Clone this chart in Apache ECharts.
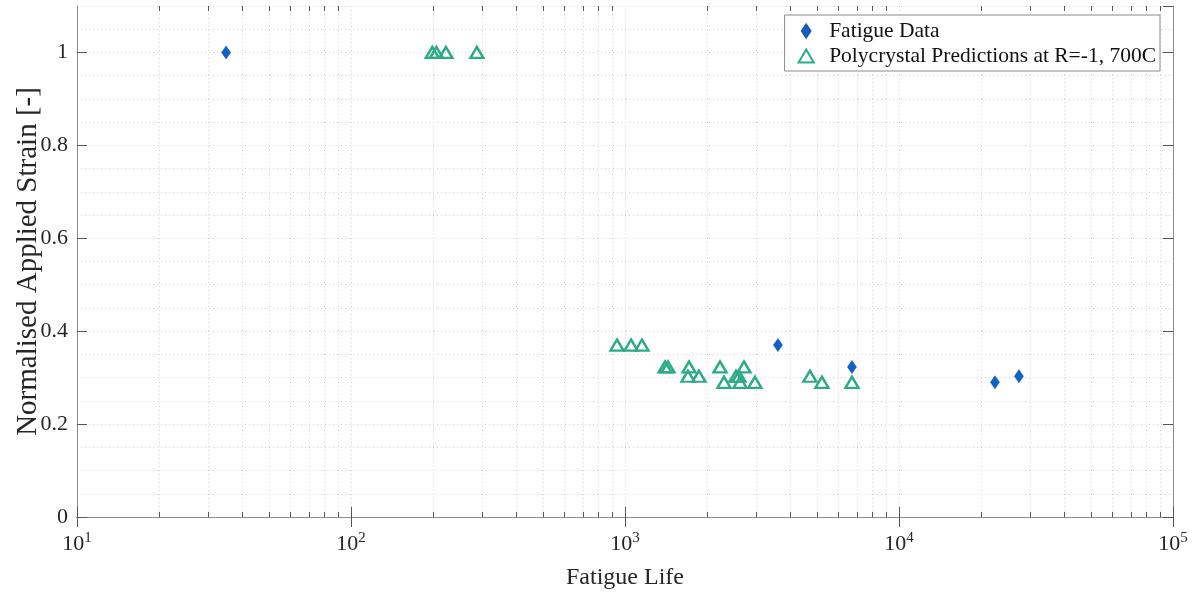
<!DOCTYPE html>
<html>
<head>
<meta charset="utf-8">
<script src="https://cdn.jsdelivr.net/npm/echarts@6/dist/echarts.min.js"></script>
<style>
  html, body { margin: 0; padding: 0; background: #fff; }
  #chart { width: 1197px; height: 592px; }
</style>
</head>
<body>
<div id="chart"></div>
<script>
// Measured fatigue lives and normalised strain amplitudes
const fatigueLife   = [35, 3616, 6734, 22400, 27400];
const fatigueStrain = [1.0, 0.37, 0.323, 0.29, 0.303];

// Polycrystal model predictions at R=-1, 700C
const predLife = [198, 205, 222, 288,
                  935, 1052, 1153,
                  1400, 1435, 1713, 2222, 2718,
                  1698, 1862, 2541, 2607, 4732,
                  2298, 2630, 2979, 5233, 6734];
const predStrain = [1.0, 1.0, 1.0, 1.0,
                    0.37, 0.37, 0.37,
                    0.323, 0.323, 0.323, 0.323, 0.323,
                    0.303, 0.303, 0.303, 0.303, 0.303,
                    0.29, 0.29, 0.29, 0.29, 0.29];

// Axis ranges and tick values
const xMin = 10, xMax = 100000;
const yMin = 0, yMax = 1.1, yStep = 0.2, yMinorStep = 0.05;
const minorLogTicks = [];
for (let d = 10; d < xMax; d *= 10) {
  for (let m = 2; m <= 9; m++) minorLogTicks.push(m * d);
}

const serif = 'Liberation Serif';
const textColor = '#262626';
const boxColor = '#8a8a8a';
const tickColor = '#555';
const gridColor = '#d2d2d2';
const blue = '#0c62c6';
const teal = '#2dab87';

const chart = echarts.init(document.getElementById('chart'));

function expLabel(v) {
  const e = Math.round(Math.log10(v));
  return '{b|10}{s|' + e + '}';
}

chart.setOption({
  animation: false,
  backgroundColor: '#fff',
  grid: { left: 77, right: 24, top: 6, bottom: 75, containLabel: false, outerBoundsMode: 'none' },
  legend: {
    data: [
      { name: 'Fatigue Data', icon: 'path://M4,0L8,6L4,12L0,6Z' },
      { name: 'Polycrystal Predictions at R=-1, 700C', icon: 'path://M7,0L14,12L0,12Z' }
    ],
    orient: 'vertical',
    right: 37,
    top: 15,
    itemWidth: 36,
    itemHeight: 13,
    itemGap: 3,
    padding: [5, 4, 4, 13],
    backgroundColor: '#fff',
    borderColor: '#8a8a8a',
    borderWidth: 1,
    textStyle: { fontFamily: serif, fontSize: 21.5, color: '#111' }
  },
  xAxis: [
    {
      type: 'log', logBase: 10, min: xMin, max: xMax,
      name: 'Fatigue Life', nameLocation: 'middle', nameGap: 49, nameMoveOverlap: false,
      nameTextStyle: { fontFamily: serif, fontSize: 24, color: textColor },
      axisLine: { show: true, lineStyle: { color: boxColor, width: 1 } },
      axisTick: { show: true, inside: true, length: 10, lineStyle: { color: tickColor } },
      axisLabel: {
        margin: 14,
        formatter: expLabel,
        rich: {
          b: { fontFamily: serif, fontSize: 22, color: textColor, lineHeight: 26 },
          s: { fontFamily: serif, fontSize: 15, color: textColor, verticalAlign: 'top', lineHeight: 26, padding: [0, 0, 9, 0] }
        }
      },
      splitLine: { show: true, lineStyle: { color: gridColor, type: [1, 3] } }
    },
    {
      type: 'log', logBase: 10, min: xMin, max: xMax, position: 'top',
      axisLine: { show: true, lineStyle: { color: boxColor, width: 1 } },
      axisTick: { show: true, inside: true, length: 10, lineStyle: { color: tickColor } },
      axisLabel: { show: false },
      splitLine: { show: false }
    }
  ],
  yAxis: [
    {
      type: 'value', min: yMin, max: yMax, interval: yStep,
      name: 'Normalised Applied Strain [-]', nameLocation: 'middle', nameGap: 34, nameMoveOverlap: false,
      nameTextStyle: { fontFamily: serif, fontSize: 29, color: textColor },
      axisLine: { show: true, lineStyle: { color: boxColor, width: 1 } },
      axisTick: { show: true, inside: true, length: 10, lineStyle: { color: tickColor } },
      axisLabel: {
        margin: 9, showMaxLabel: false,
        fontFamily: serif, fontSize: 22, color: textColor,
        formatter: v => String(+v.toFixed(2))
      },
      splitLine: { show: false }
    },
    {
      type: 'value', min: yMin, max: yMax, interval: yStep, position: 'right',
      axisLine: { show: true, lineStyle: { color: boxColor, width: 1 } },
      axisTick: { show: true, inside: true, length: 10, lineStyle: { color: tickColor } },
      axisLabel: { show: false },
      splitLine: { show: false }
    },
    {
      // fine horizontal grid every 0.05
      type: 'value', min: yMin, max: yMax, interval: yMinorStep, position: 'left',
      axisLine: { show: false }, axisTick: { show: false }, axisLabel: { show: false },
      splitLine: { show: true, lineStyle: { color: gridColor, type: [1, 3] } }
    }
  ],
  series: [
    {
      // minor log ticks (2..9 per decade) and their dotted grid lines
      type: 'custom',
      silent: true,
      xAxisIndex: 0, yAxisIndex: 0,
      z: 0,
      clip: false,
      data: minorLogTicks.map(v => [v, 0.5]),
      renderItem: function (params, api) {
        const x = Math.round(api.coord([api.value(0), api.value(1)])[0]) + 0.5;
        const cs = params.coordSys;
        const top = cs.y, bottom = cs.y + cs.height;
        return {
          type: 'group',
          children: [
            { type: 'line', shape: { x1: x, y1: top, x2: x, y2: bottom },
              style: { stroke: gridColor, lineWidth: 1, lineDash: [1, 3] } },
            { type: 'line', shape: { x1: x, y1: bottom, x2: x, y2: bottom - 5 },
              style: { stroke: tickColor, lineWidth: 1 } },
            { type: 'line', shape: { x1: x, y1: top, x2: x, y2: top + 5 },
              style: { stroke: tickColor, lineWidth: 1 } }
          ]
        };
      }
    },
    {
      name: 'Fatigue Data',
      type: 'scatter',
      xAxisIndex: 0, yAxisIndex: 0,
      symbol: 'diamond',
      symbolSize: [9, 13],
      z: 4,
      itemStyle: { color: blue, borderColor: '#1b56a8', borderWidth: 0.6, opacity: 1 },
      data: fatigueLife.map((v, i) => [v, fatigueStrain[i]])
    },
    {
      name: 'Polycrystal Predictions at R=-1, 700C',
      type: 'scatter',
      xAxisIndex: 0, yAxisIndex: 0,
      symbol: 'triangle',
      symbolSize: [13, 11],
      z: 3,
      itemStyle: { color: 'rgba(255,255,255,0)', borderColor: teal, borderWidth: 2.4, opacity: 1 },
      data: predLife.map((v, i) => [v, predStrain[i]])
    }
  ]
});
</script>
</body>
</html>
